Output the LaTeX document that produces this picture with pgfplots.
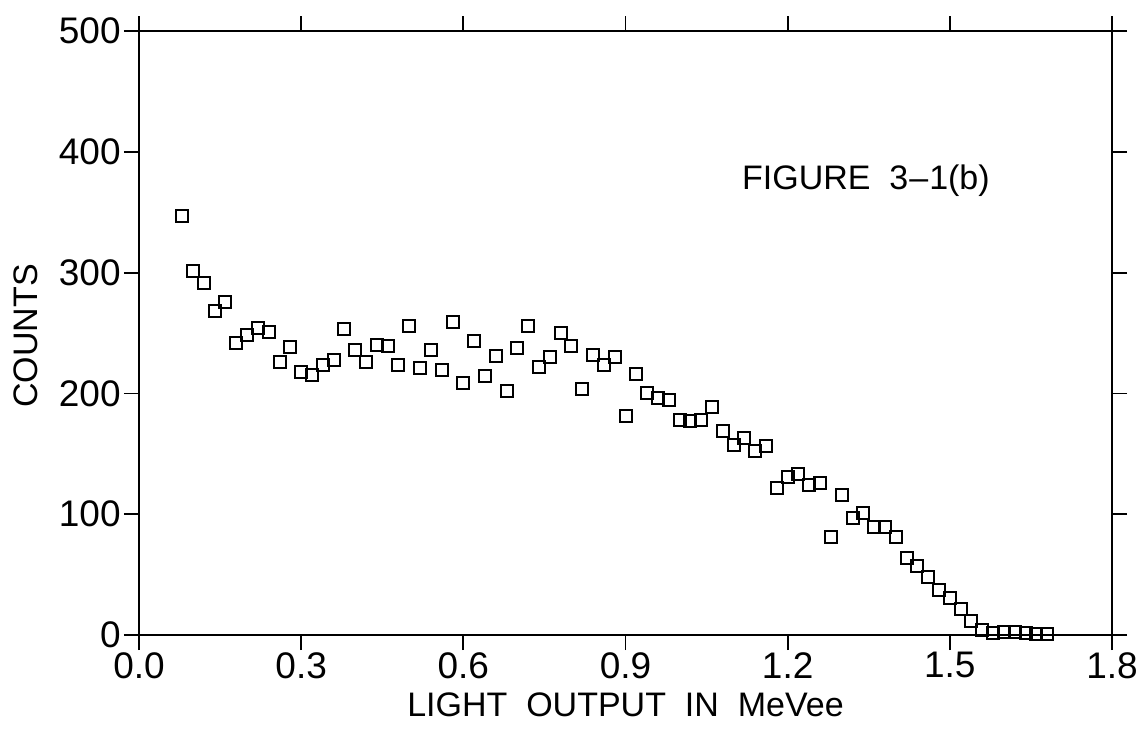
\documentclass[border=0pt]{standalone}
\usepackage{fontspec}
\setmainfont{Liberation Sans}
\usepackage{pgfplots}
\pgfplotsset{compat=1.18}
\begin{document}
\begin{tikzpicture}
\begin{axis}[
  scale only axis,
  width=486.5pt, height=302pt,
  xmin=0, xmax=1.8, ymin=0, ymax=500,
  xtick={0,0.3,0.6,0.9,1.2,1.5,1.8},
  ytick={0,100,200,300,400,500},
  xticklabel style={/pgf/number format/fixed, /pgf/number format/fixed zerofill, /pgf/number format/precision=1, inner sep=1pt},
  yticklabel style={/pgf/number format/fixed, /pgf/number format/precision=0, inner sep=1.5pt},
  /pgf/number format/assume math mode=true,
  tick align=outside,
  major tick length=7.5pt,
  tick style={black, line width=0.9pt},
  axis line style={line width=0.9pt},
  ticklabel style={font=\fontsize{18.5}{20}\selectfont},
  label style={font=\fontsize{17}{20}\selectfont},
  xlabel={LIGHT\ \ OUTPUT\ \ IN\ \ MeVee},
  ylabel={COUNTS},
  xlabel style={at={(axis description cs:0.5,0)}, anchor=center, yshift=-35pt},
  ylabel style={at={(axis description cs:-0.116,0.495)}, anchor=center, rotate=0},
  clip=false,
]
\addplot[only marks, mark=square, mark size=3pt, mark options={line width=1pt, black}] coordinates {
(0.08,346.6) (0.10,301.5) (0.12,291.1) (0.14,268.2) (0.16,275.3)
(0.18,241.4) (0.20,248.1) (0.22,254.5) (0.24,251.0) (0.26,226.0)
(0.28,238.2) (0.30,217.9) (0.32,214.9) (0.34,223.5) (0.36,227.5)
(0.38,253.0) (0.40,235.7) (0.42,225.9) (0.44,240.3) (0.46,239.5)
(0.48,223.9) (0.50,256.2) (0.52,221.3) (0.54,236.3) (0.56,219.0)
(0.58,259.3) (0.60,208.9) (0.62,243.5) (0.64,214.6) (0.66,231.0)
(0.68,201.8) (0.70,237.8) (0.72,255.5) (0.74,221.6) (0.76,230.0)
(0.78,249.9) (0.80,239.3) (0.82,203.7) (0.84,232.0) (0.86,223.2)
(0.88,230.5) (0.90,181.2) (0.92,216.3) (0.94,200.1) (0.96,196.3)
(0.98,194.2) (1.00,178.0) (1.02,177.3) (1.04,178.2) (1.06,189.0)
(1.08,169.0) (1.10,156.9) (1.12,163.0) (1.14,152.3) (1.16,156.3)
(1.18,121.6) (1.20,130.8) (1.22,133.4) (1.24,123.8) (1.26,125.9)
(1.28,81.2) (1.30,115.8) (1.32,96.6) (1.34,100.8) (1.36,89.5)
(1.38,89.6) (1.40,81.4) (1.42,64.1) (1.44,57.3) (1.46,47.7)
(1.48,37.0) (1.50,30.3) (1.52,21.5) (1.54,11.4) (1.56,4.3)
(1.58,1.9) (1.60,2.8) (1.62,2.8) (1.64,1.9) (1.66,0.5)
(1.68,0.5)
};
\node[anchor=west, font=\fontsize{17}{20}\selectfont, inner sep=0pt] at (axis cs:1.115,376) {FIGURE\ \ 3\kern0.5pt--\kern0.5pt1(b)};
\coordinate (bl) at (rel axis cs:0,0);
\coordinate (tr) at (rel axis cs:1,1);
\end{axis}
\pgfresetboundingbox
\path[use as bounding box] ([shift={(-69.5pt,-49pt)}]bl) rectangle ([shift={(16.5pt,15.5pt)}]tr);
\end{tikzpicture}
\end{document}
